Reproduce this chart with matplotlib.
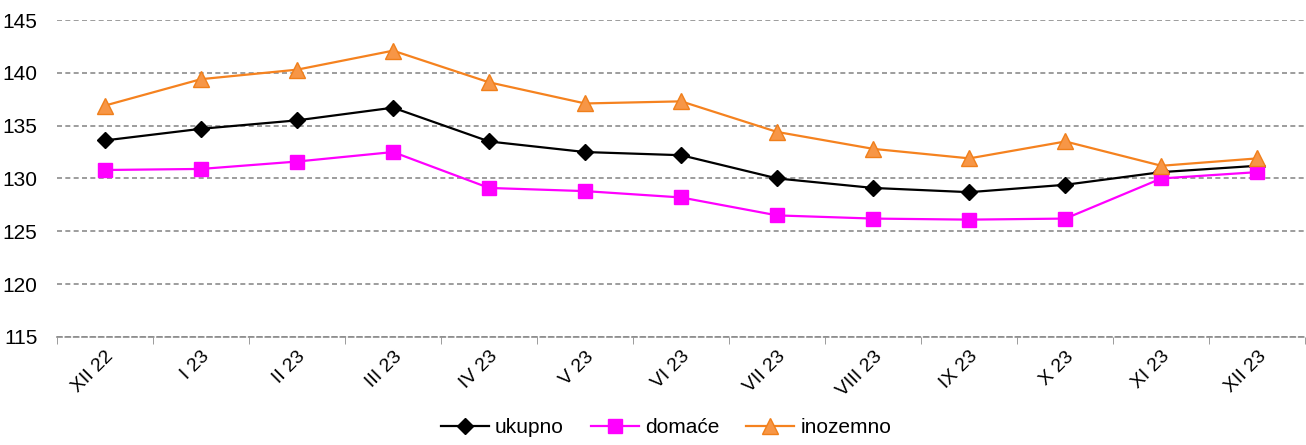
import matplotlib
matplotlib.use("Agg")
import matplotlib.pyplot as plt
import numpy as np

plt.rcParams['font.family'] = ['Liberation Sans', 'DejaVu Sans']

months = ['XII 22', 'I 23', 'II 23', 'III 23', 'IV 23', 'V 23', 'VI 23',
          'VII 23', 'VIII 23', 'IX 23', 'X 23', 'XI 23', 'XII 23']
ukupno = [133.6, 134.7, 135.5, 136.7, 133.5, 132.5, 132.2, 130.0, 129.1, 128.7, 129.4, 130.6, 131.2]
domace = [130.8, 130.9, 131.6, 132.5, 129.1, 128.8, 128.2, 126.5, 126.2, 126.1, 126.2, 130.0, 130.6]
inozemno = [136.9, 139.4, 140.3, 142.1, 139.1, 137.1, 137.3, 134.4, 132.8, 131.9, 133.5, 131.2, 131.9]


def main():
    fig = plt.figure(figsize=(13.06, 4.45), dpi=100)
    ax = fig.add_axes([0.0436, 0.243, 0.956, 0.712])

    x = np.arange(len(months))
    ax.plot(x, ukupno, color='black', lw=1.6, marker='D', ms=8,
            mfc='black', mec='black', label='ukupno', zorder=3)
    ax.plot(x, domace, color='#FF00FF', lw=1.6, marker='s', ms=10,
            mfc='#FF00FF', mec='#FF00FF', label='domaće', zorder=3)
    ax.plot(x, inozemno, color='#F5821F', lw=1.6, marker='^', ms=12,
            mfc='#F79646', mec='#F07F1A', label='inozemno', zorder=4)

    ax.set_xlim(-0.5, len(months) - 0.5)
    ax.set_ylim(115, 145)
    ax.set_yticks(np.arange(115, 146, 5))
    grid_ls = (0, (3, 2))
    ax.yaxis.grid(True, color='#8c8c8c', ls=grid_ls, lw=1.2)
    ax.set_axisbelow(True)

    ax.set_xticks(x)
    ax.set_xticklabels(months, rotation=45, ha='right', rotation_mode='anchor',
                       fontsize=14)
    ax.set_xticks(np.arange(-0.5, len(months)), minor=True)
    ax.tick_params(axis='x', which='major', length=0, pad=8)
    ax.tick_params(axis='x', which='minor', length=5, color='#8c8c8c', direction='out')
    ax.tick_params(axis='y', length=0, labelsize=15, pad=14)

    for s in ['top', 'right', 'left']:
        ax.spines[s].set_visible(False)
    ax.spines['bottom'].set_color('#8c8c8c')
    ax.spines['bottom'].set_linestyle(grid_ls)
    ax.spines['bottom'].set_linewidth(1.2)

    fig.legend(loc='lower center', bbox_to_anchor=(0.51, -0.025), ncol=3,
               frameon=False, fontsize=15, handlelength=2.3, columnspacing=1.3,
               handletextpad=0.3)

    fig.savefig('out.png', dpi=100)


if __name__ == "__main__":
    main()
